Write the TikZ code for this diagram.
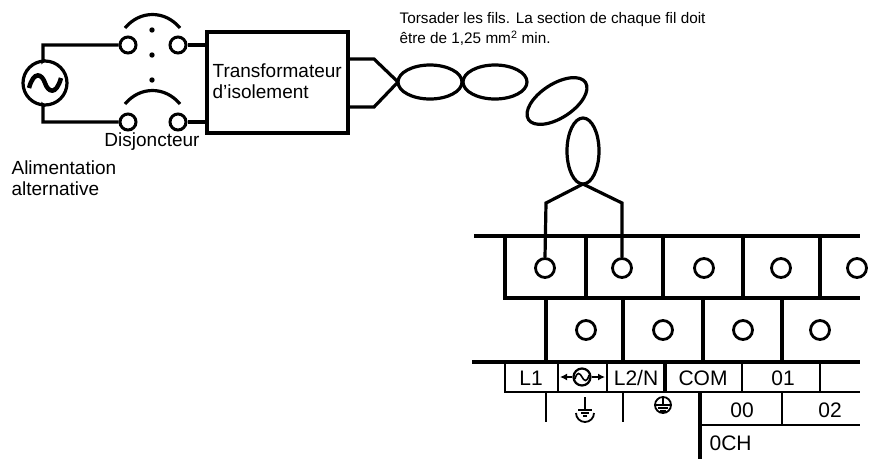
\documentclass[tikz,border=0pt]{standalone}
\usepackage{fontspec}
\setmainfont{Liberation Sans}
\usetikzlibrary{arrows.meta}
\begin{document}
\begin{tikzpicture}[x=1pt,y=-1pt,line width=3.2pt,
  term/.style={circle,draw,line width=2.8pt,minimum size=19pt,inner sep=0pt},
  sterm/.style={circle,draw,line width=3pt,minimum size=16pt,inner sep=0pt},
  lbl/.style={font=\fontsize{19}{21}\selectfont,inner sep=0pt},
  tl/.style={font=\fontsize{21}{23}\selectfont,inner sep=0pt},
  thin/.style={line width=1.8pt}]
\useasboundingbox (0,0) rectangle (874,459);
% AC source
\node[circle,draw,minimum size=44pt,inner sep=0pt] (ac) at (45,83) {};
\draw[line width=4.5pt] (29,88) .. controls (34,70) and (42,74) .. (45,83) .. controls (48,92) and (56,96) .. (61,78);
\node[sterm] (c1) at (128,45) {};
\node[sterm] (c2) at (178,45) {};
\node[sterm] (c3) at (128,122) {};
\node[sterm] (c4) at (178,122) {};
\draw (ac.north) -- (43,61) -- (43,45) -- (c1.west);
\draw (ac.south) -- (43,105) -- (43,122) -- (c3.west);
\draw (125,28) .. controls (140,10) and (165,10) .. (180,28);
\draw (125,104) .. controls (140,86) and (165,86) .. (180,104);
\fill (152,30) circle (2.7) (152,55) circle (2.7) (152,80) circle (2.7);
\node[lbl] (dj) at (152,142) {Disjoncteur};
\node[lbl,anchor=west,align=left] (al) at (10,178) {Alimentation\\alternative};
% transformer
\node[draw,minimum width=141pt,minimum height=101pt,inner sep=0pt] (tr) at (277.5,82.5) {};
\node[lbl,anchor=north west,align=left] (trt) at (211,62) {Transformateur\\d’isolement};
\draw (c2.east) -- (tr.west |- c2);
\draw (c4.east) -- (tr.west |- c4);
\coordinate (x1) at (398,82);
\draw (tr.east |- 0,59) -- (374,59) -- (x1);
\draw (tr.east |- 0,107) -- (374,107) -- (x1);
% twisted pair
\draw (430,82) ellipse (32 and 17);
\draw (495,82) ellipse (32 and 17);
\draw[rotate around={33:(557,101)}] (557,101) ellipse (34 and 17);
\draw (583,151) ellipse (16 and 33);
\coordinate (x2) at (583,184);
\node[anchor=west,align=left,inner sep=0pt,font=\fontsize{15.3}{20}\selectfont] (tw) at (398,29) {Torsader les fils. La section de chaque fil doit\\être de 1,25 mm\textsuperscript{2} min.};
% terminal block
\draw (474,236) -- (860,236);
\draw (505,236) -- (505,298) -- (860,298);
\foreach \x in {586,663,743,820} \draw (\x,236) -- (\x,298);
\foreach \x/\n in {545/t1,622/t2,704/t3,781/t4,857/t5} \node[term] (\n) at (\x,268) {};
\foreach \x in {546,623,703,782} \draw (\x,298) -- (\x,362);
\foreach \x/\n in {586/b1,663/b2,743/b3,820/b4} \node[term] (\n) at (\x,330) {};
\draw (x2) -- (546,203) -- (t1.north);
\draw (x2) -- (622,203) -- (t2.north);
\draw (472,362) -- (860,362);
\draw[thin] (505,362) -- (505,392) -- (860,392);
\draw[thin] (558,362) -- (558,392) (607,362) -- (607,392) (742,362) -- (742,392) (820,362) -- (820,392);
\draw (665,362) -- (665,393);
\node[tl] (l1) at (531,378) {L1};
\node[tl] (l2) at (636,378) {L2/N};
\node[tl] (com) at (703,378) {COM};
\node[tl] (o1) at (783,378) {01};
\node[circle,draw,line width=2.2pt,minimum size=17pt,inner sep=0pt] (sym) at (582,377) {};
\draw[line width=1.6pt] (575,379) .. controls (577,371) and (580,373) .. (582,377) .. controls (584,381) and (587,383) .. (589,375);
\draw[thin,{Latex[length=7pt,width=7pt]}-] (560,377) -- (sym.west);
\draw[thin,-{Latex[length=7pt,width=7pt]}] (sym.east) -- (605,377);
\draw[thin] (546,392) -- (546,422) (623,392) -- (623,422);
% frame ground
\draw[thin] (576,413) arc (180:0:9);
\draw[thin] (585,397) -- (585,410) (578,410) -- (592,410) (581,413) -- (589,413) (583,416) -- (587,416);
% protective earth
\draw[thin] (663,405) circle (8);
\draw[thin] (663,397) -- (663,405) (656,405) -- (670,405) (658,408) -- (668,408) (660,411) -- (666,411);
\draw (700,393) -- (700,459);
\draw[thin] (700,425) -- (860,425) (782,392) -- (782,425);
\node[tl] (o0) at (742,410) {00};
\node[tl] (o2) at (830,410) {02};
\node[tl,anchor=west] (ch) at (708,443) {0CH};
\end{tikzpicture}
\end{document}
